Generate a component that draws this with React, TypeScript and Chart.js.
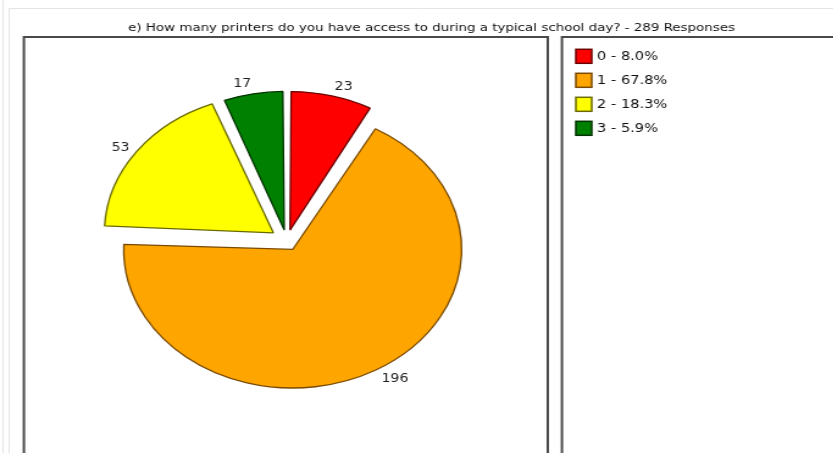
import React, { useEffect, useRef } from "react";
import { Chart, registerables } from "chart.js";

Chart.register(...registerables);

const titleText = "e) How many printers do you have access to during a typical school day? - 289 Responses";
const categories = ["0", "1", "2", "3"];
const counts = [23, 196, 53, 17];
const percentLabels = ["8.0%", "67.8%", "18.3%", "5.9%"];
const fillColors = ["#ff0000", "#ffa500", "#ffff00", "#008000"];
const edgeColors = ["#6e0000", "#7a4a00", "#6a6a00", "#003300"];
const explode = [11, 10, 13.5, 11];

const SX = 1.22; // horizontal stretch of the original picture
const CW = 683;
const CH = 453;
const PIE_R = 138.5;
const LABEL_R = 159;

const decorPlugin = {
  id: "decor",
  beforeDraw(chart: any) {
    const ctx = chart.ctx;
    ctx.save();
    ctx.fillStyle = "#ffffff";
    ctx.fillRect(0, 0, CW, CH);
    // faint outer frame
    ctx.strokeStyle = "#e4e4e4";
    ctx.lineWidth = 1;
    ctx.beginPath();
    ctx.moveTo(7.5, 8.5);
    ctx.lineTo(CW + 5, 8.5);
    ctx.moveTo(7.5, 8.5);
    ctx.lineTo(7.5, CH + 5);
    ctx.moveTo(2.5, 0);
    ctx.lineTo(2.5, CH + 5);
    ctx.stroke();
    // panels
    ctx.strokeStyle = "#4a4a4a";
    ctx.lineWidth = 2;
    ctx.strokeRect(19.6, 37, 429.4, 440);
    ctx.strokeRect(460.6, 37, 300, 440);
    // title
    ctx.fillStyle = "#111111";
    ctx.font = "11px 'DejaVu Sans'";
    ctx.textAlign = "center";
    ctx.textBaseline = "middle";
    ctx.fillText(titleText, 353.7, 28);
    // legend
    ctx.font = "12px 'DejaVu Sans'";
    ctx.textAlign = "left";
    categories.forEach((c, i) => {
      const yc = 56.3 + i * 24;
      ctx.fillStyle = fillColors[i];
      ctx.fillRect(472, yc - 7, 13, 14);
      ctx.strokeStyle = edgeColors[i];
      ctx.lineWidth = 1.5;
      ctx.strokeRect(472, yc - 7, 13, 14);
      ctx.fillStyle = "#111111";
      ctx.fillText(c + " - " + percentLabels[i], 489.3, yc + 0.5);
    });
    ctx.restore();
  },
  afterDatasetsUpdate(chart: any) {
    const meta = chart.getDatasetMeta(0);
    meta.data.forEach((el: any, i: number) => {
      const fix = 1 - Math.sin(Math.min(Math.PI, el.circumference || 0));
      el.outerRadius = PIE_R - explode[i] * fix;
    });
  },
  afterDatasetsDraw(chart: any) {
    const ctx = chart.ctx;
    const meta = chart.getDatasetMeta(0);
    ctx.save();
    ctx.font = "11.5px 'DejaVu Sans'";
    ctx.fillStyle = "#222222";
    ctx.textBaseline = "middle";
    meta.data.forEach((el: any, i: number) => {
      const mid = (el.startAngle + el.endAngle) / 2;
      const x = el.x + Math.cos(mid) * LABEL_R;
      const y = el.y + Math.sin(mid) * LABEL_R;
      ctx.textAlign = Math.cos(mid) >= 0 ? "left" : "right";
      ctx.fillText(String(counts[i]), x, y);
    });
    ctx.restore();
  },
};

export default function App() {
  const ref = useRef<HTMLCanvasElement | null>(null);
  useEffect(() => {
    if (!ref.current) return;
    const chart = new Chart(ref.current, {
      type: "pie",
      data: {
        labels: categories,
        datasets: [
          {
            data: counts,
            backgroundColor: fillColors,
            borderColor: edgeColors,
            borderWidth: 1.3,
            offset: explode.map((e) => e * 4),
            radius: PIE_R,
          } as any,
        ],
      },
      options: {
        responsive: false,
        animation: false,
        layout: { padding: { left: 95, right: 308, top: 100.5, bottom: 72 } },
        plugins: {
          legend: { display: false },
          title: { display: false },
          tooltip: { enabled: false },
        },
        events: [],
      },
      plugins: [decorPlugin],
    });
    return () => chart.destroy();
  }, []);
  return (
    <div style={{ position: "absolute", left: 0, top: 0, width: 833, height: 453, overflow: "hidden", background: "#fff" }}>
      <canvas
        ref={ref}
        width={CW}
        height={CH}
        style={{ transform: `scaleX(${SX})`, transformOrigin: "0 0", display: "block" }}
      />
    </div>
  );
}
